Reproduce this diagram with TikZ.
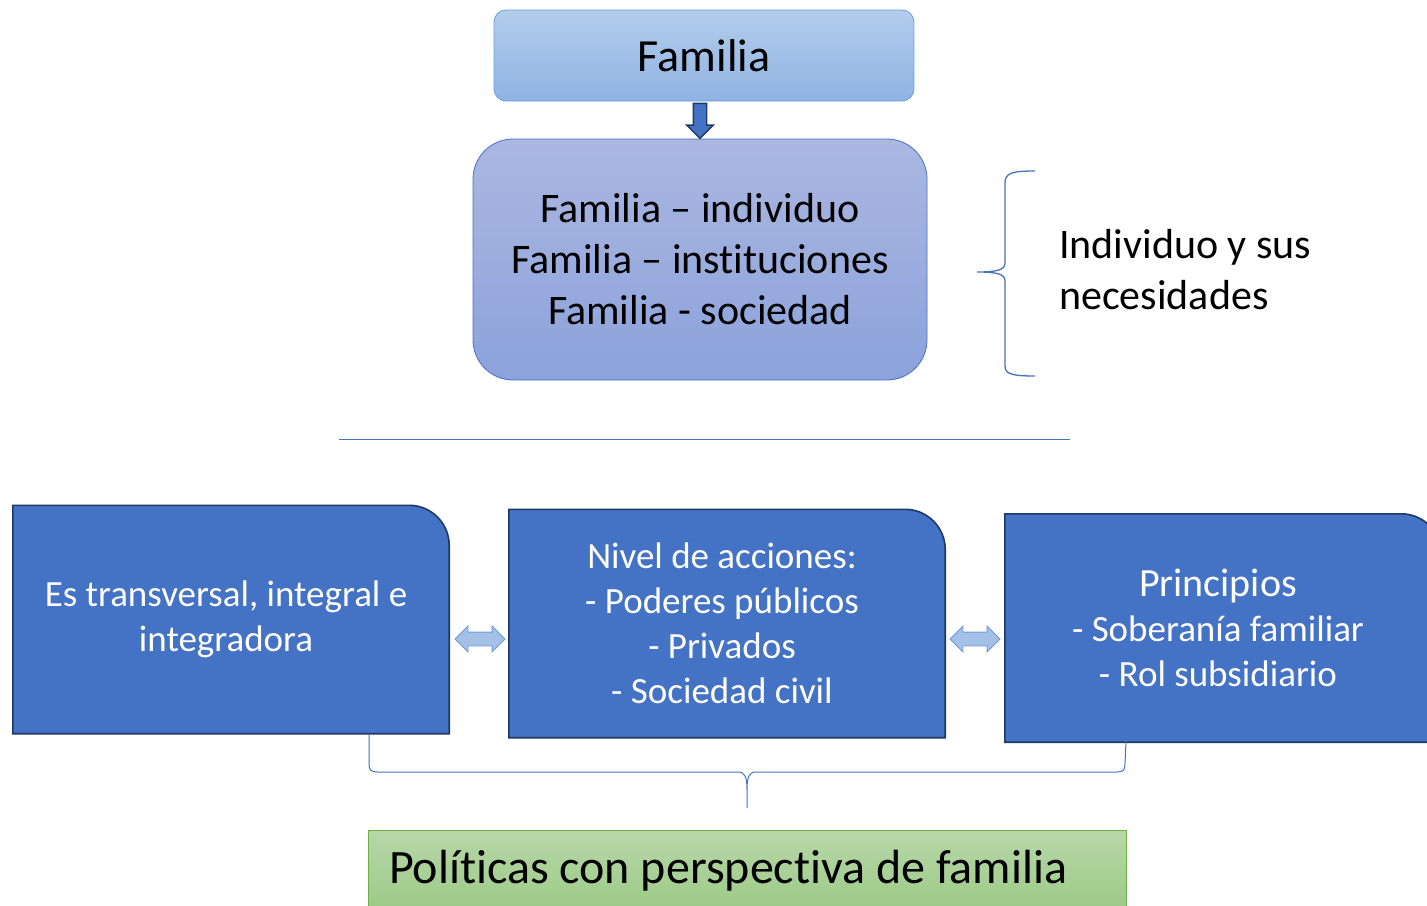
\documentclass[tikz,border=0pt]{standalone}
\usepackage{fontspec}
\setmainfont[Ligatures=TeX,RawFeature={-liga;-clig}]{Carlito}
\usetikzlibrary{shapes.arrows,backgrounds}
\definecolor{accent}{HTML}{4472C4}
\definecolor{accentdark}{HTML}{1F3864}
\definecolor{famtop}{HTML}{B3CDEC}
\definecolor{fambot}{HTML}{8FB3E3}
\definecolor{famline}{HTML}{6A9FDB}
\definecolor{reltop}{HTML}{ABB7E1}
\definecolor{relbot}{HTML}{8CA2DB}
\definecolor{arrowfill}{HTML}{A4C0E6}
\definecolor{arrowline}{HTML}{6E9BD6}
\definecolor{poltop}{HTML}{B7D7A8}
\definecolor{polbot}{HTML}{9CCA86}
\definecolor{polline}{HTML}{70AD47}
\begin{document}
\begin{tikzpicture}[x=1pt,y=-1pt,
    titlebox/.style={rounded corners=12pt,draw=famline,line width=0.8pt,top color=famtop,bottom color=fambot,minimum width=420pt,minimum height=91pt,font=\fontsize{46}{55}\selectfont},
    relbox/.style={rounded corners=40pt,draw=accent,line width=0.8pt,top color=reltop,bottom color=relbot,minimum width=454pt,minimum height=241pt,align=center,font=\fontsize{42}{51}\selectfont},
    actbox/.style={minimum width=446pt,minimum height=228pt,align=center,text=white,font=\fontsize{37}{45}\selectfont},
    actshape/.style={fill=accent,draw=accentdark,line width=1.6pt},
    polbox/.style={draw=polline,line width=0.8pt,top color=poltop,bottom color=polbot,minimum width=758pt,minimum height=82pt,text width=716pt,inner xsep=21pt,align=flush left,font=\fontsize{48}{57}\selectfont},
    dblarrow/.style={double arrow,draw=arrowline,fill=arrowfill,line width=0.8pt,minimum height=50pt,inner sep=6.5pt,double arrow head extend=6pt},
    downarrow/.style={single arrow,draw=accentdark,fill=accent,line width=1.4pt,minimum height=35pt,inner sep=6pt,single arrow head extend=6.5pt},
    bracket/.style={draw=accent,line width=1.3pt}]
    \useasboundingbox (0,0) rectangle (1427,905);

    \node[titlebox] at (704,55.5) (fam) {Familia};
    \node[relbox] at (700,259.5) (rel) {Familia – individuo\\Familia – instituciones\\Familia - sociedad};
    \node[downarrow,rotate=-90] at (700,117.5) (fa) {};

    \node[anchor=west,inner sep=0pt,align=left,font=\fontsize{42}{51}\selectfont] at (1059,270) (need) {Individuo y sus\\necesidades};
    \draw[bracket] (1035,171) .. controls (1012,171) and (1005,173) .. (1005,183) -- (1005,263)
        .. controls (1005,270) and (997,272) .. (977,272)
        .. controls (997,272) and (1005,274) .. (1005,281) -- (1005,366)
        .. controls (1005,374) and (1012,376) .. (1035,376);

    \coordinate (sepl) at (339,439);
    \coordinate (sepr) at (1070,439);
    \draw[accent,line width=1pt] (sepl) -- (sepr);

    \node[actbox] at (226,619.5) (trans) {Es transversal, integral e\\integradora};
    \node[actbox] at (722,623.5) (nivel) {Nivel de acciones:\\- Poderes públicos\\- Privados\\- Sociedad civil};
    \node[actbox] at (1218,628) (prin) {{\fontsize{40}{48}\selectfont Principios}\\- Soberanía familiar\\- Rol subsidiario};
    \begin{scope}[on background layer]
        \foreach \b in {trans,nivel,prin}
            \draw[actshape] ([xshift=10pt]\b.south west) -- ([xshift=10pt]\b.north west) -- ([xshift=-40pt]\b.north east)
                .. controls ([xshift=-18pt]\b.north east) and ([yshift=-18pt]\b.north east) .. ([yshift=-40pt]\b.north east)
                -- (\b.south east) -- cycle;
    \end{scope}
    \node[dblarrow] at (480,639) (tn) {};
    \node[dblarrow] at (975,639) (np) {};

    \draw[bracket,line width=1pt] (369,735) -- (369,764) .. controls (369,770) and (371,772) .. (378,772) -- (738,772)
        .. controls (745,772) and (747,777) .. (747,790) -- (747,808)
        (747,790) .. controls (747,777) and (749,772) .. (756,772) -- (1117,772)
        .. controls (1123,772) and (1125,770) .. (1125,764) -- (1126,741);

    \node[polbox] at (747,871) (pol) {Políticas con perspectiva de familia};
\end{tikzpicture}
\end{document}
